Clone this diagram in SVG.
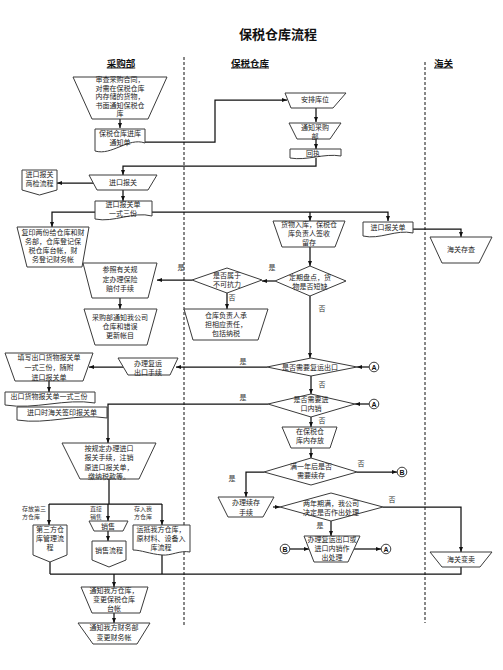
<svg xmlns="http://www.w3.org/2000/svg" width="503" height="670" viewBox="0 0 503 670">
<style>
.s{fill:#fff;stroke:#3a3a3a;stroke-width:1}
.t{font-family:"Noto Sans CJK SC","Liberation Sans",sans-serif;font-size:7px;fill:#222;text-anchor:middle}
.c{fill:none;stroke:#111;stroke-width:1.25}
.a{marker-end:url(#ah)}
.lb{font-family:"Noto Sans CJK SC","Liberation Sans",sans-serif;font-size:7px;fill:#333;text-anchor:middle}
.sm{font-family:"Noto Sans CJK SC","Liberation Sans",sans-serif;font-size:6px;fill:#333;text-anchor:start}
.h{font-family:"Noto Sans CJK SC","Liberation Sans",sans-serif;font-weight:bold;font-size:9.5px;text-decoration:underline;text-anchor:middle;fill:#111}
.dash{stroke:#111;stroke-width:1;stroke-dasharray:3 2;fill:none}
.ct{font-family:"Liberation Sans",sans-serif;font-weight:bold;font-size:7px;fill:#111;text-anchor:middle}
</style>
<defs>
<marker id="ah" viewBox="0 0 10 10" refX="10" refY="5" markerWidth="5" markerHeight="5" markerUnits="userSpaceOnUse" orient="auto">
<path d="M0,1 L10,5 L0,9 Z" fill="#111"/>
</marker>
</defs>
<rect width="503" height="670" fill="#fff"/>

<g id="title">
<text x="278" y="38.5" font-family="'Noto Sans CJK SC',sans-serif" font-weight="bold" font-size="13" text-anchor="middle" fill="#111">保税仓库流程</text>
<text class="h" x="121" y="66.5">采购部</text>
<text class="h" x="250" y="66.5">保税仓库</text>
<text class="h" x="443.5" y="66.5">海关</text>
</g>

<g id="lanes">
<line class="dash" x1="184" y1="57" x2="184" y2="627"/>
<line class="dash" x1="425" y1="62" x2="425" y2="623"/>
</g>

<g id="connectors">
<path class="c a" d="M120,119 V128"/>
<path class="c a" d="M145,142 H215 V100 H287"/>
<path class="c a" d="M316,108 V122"/>
<path class="c a" d="M316,139 V149"/>
<path class="c a" d="M316,158 V166 H123 V175"/>
<path class="c a" d="M93,183 H57"/>
<path class="c a" d="M123,190 V201"/>
<path class="c a" d="M95,212 H52 V227"/>
<path class="c a" d="M152,212 H388 V221"/>
<path class="c a" d="M310,212 V221"/>
<path class="c a" d="M413,229 H461 V237"/>
<path class="c a" d="M310,247 V266"/>
<path class="c a" d="M275,281 H262"/>
<path class="c a" d="M192,280 H157"/>
<path class="c a" d="M120,298 V309"/>
<path class="c a" d="M227,293 V309"/>
<path class="c a" d="M310,296 V358"/>
<path class="c a" d="M267,367 H176"/>
<path class="c a" d="M123,367 H89"/>
<path class="c a" d="M49,381 V392"/>
<path class="c a" d="M311,376 V394"/>
<path class="c a" d="M268,404 H108 V443"/>
<path class="c a" d="M311,417 V427"/>
<path class="c a" d="M311,448 V458"/>
<path class="c a" d="M264,472 H246 V497"/>
<path class="c a" d="M357,472 H397"/>
<path class="c a" d="M369,367 H357"/>
<path class="c a" d="M369,404 H355"/>
<path class="c" d="M109,479 V504 M49,504 H162"/>
<path class="c a" d="M49,504 V525"/>
<path class="c a" d="M108,504 V521"/>
<path class="c a" d="M162,504 V525"/>
<path class="c a" d="M108,531 V541"/>
<path class="c" d="M50,562 V574 M162,555 V574 M50,574 H461 V567"/>
<path class="c a" d="M114,574 V587"/>
<path class="c a" d="M114,613 V623"/>
<path class="c a" d="M273,507 H280"/>
<path class="c a" d="M383,507 H461 V552"/>
<path class="c a" d="M331,521 V536"/>
<path class="c a" d="M290,549 H309"/>
<path class="c a" d="M354,549 H381"/>
<text class="lb" x="181" y="270">是</text>
<text class="lb" x="272" y="270">是</text>
<text class="lb" x="232" y="300">否</text>
<text class="lb" x="322" y="311">否</text>
<text class="lb" x="243" y="364">是</text>
<text class="lb" x="322" y="387">否</text>
<text class="lb" x="243" y="400">是</text>
<text class="lb" x="322" y="423">否</text>
<text class="lb" x="361" y="466">否</text>
<text class="lb" x="232" y="481">是</text>
<text class="lb" x="392" y="502">否</text>
<text class="lb" x="320" y="528">是</text>
<text class="sm" x="22" y="510.5">存放第三</text>
<text class="sm" x="22" y="518.5">方仓库</text>
<text class="sm" x="90" y="510.5">直接</text>
<text class="sm" x="90" y="518.5">销售</text>
<text class="sm" x="134" y="510.5">存入我</text>
<text class="sm" x="134" y="518.5">方仓库</text>
</g>

<g id="n-review">
<polygon class="s" points="73,77 167,77 148,119 92,119"/>
<text class="t"><tspan x="120" y="82">审查采购合同，</tspan><tspan x="120" y="90.6">对需在保税仓库</tspan><tspan x="120" y="99.2">内存储的货物，</tspan><tspan x="120" y="107.8">书面通知保税仓</tspan><tspan x="120" y="116.4">库</tspan></text>
</g>
<g id="n-notice">
<path class="s" d="M95,129 H145 V143 C128,137 112,156 95,151 Z"/>
<text class="t"><tspan x="120" y="135.5">保税仓库进库</tspan><tspan x="120" y="144.5">通知单</tspan></text>
</g>
<g id="n-arrange">
<polygon class="s" points="285,93 346,93 333,108 291,108"/>
<text class="t" x="315" y="102">安排库位</text>
</g>
<g id="n-notify-purchase">
<polygon class="s" points="289,123 341,123 330,139 297,139"/>
<text class="t"><tspan x="315" y="129.5">通知采购</tspan><tspan x="315" y="138.5">部</tspan></text>
</g>
<g id="n-receipt">
<path class="s" d="M290,149 H341 V156 C324,153 307,161 290,158 Z"/>
<text class="t" x="313" y="156">回执</text>
</g>
<g id="n-import-declare">
<polygon class="s" points="89,175 157,175 148,190 97,190"/>
<text class="t" x="123" y="185">进口报关</text>
</g>
<g id="n-inspection">
<polygon class="s" points="22,170 57,170 57,190 39.5,195 22,190"/>
<text class="t"><tspan x="39.5" y="177">进口报关</tspan><tspan x="39.5" y="186">商检流程</tspan></text>
</g>
<g id="n-import-form">
<path class="s" d="M95,201 H152 V216 C133,211 114,223 95,219 Z"/>
<text class="t"><tspan x="123" y="206.5">进口报关单</tspan><tspan x="123" y="215.5">一式三份</tspan></text>
</g>
<g id="n-copy">
<polygon class="s" points="17,227 89,227 82,267 27,267"/>
<text class="t"><tspan x="53" y="235">复印两份给仓库和财</tspan><tspan x="53" y="244">务部，仓库登记保</tspan><tspan x="53" y="253">税仓库台帐，财</tspan><tspan x="53" y="262">务登记财务帐</tspan></text>
</g>
<g id="n-insurance">
<polygon class="s" points="83,263 157,263 148,298 92,298"/>
<text class="t"><tspan x="120" y="272">参照有关规</tspan><tspan x="120" y="282">定办理保险</tspan><tspan x="120" y="291">赔付手续</tspan></text>
</g>
<g id="n-update">
<polygon class="s" points="84,309 157,309 147,345 95,345"/>
<text class="t"><tspan x="120" y="320">采购部通知我公司</tspan><tspan x="120" y="329">仓库和错误</tspan><tspan x="120" y="338">更新帐目</tspan></text>
</g>
<g id="n-storage-in">
<polygon class="s" points="273,221 345,221 335,247 282,247"/>
<text class="t"><tspan x="309" y="227">货物入库，保税仓</tspan><tspan x="309" y="236">库负责人签收</tspan><tspan x="309" y="245">留存</tspan></text>
</g>
<g id="n-shortage">
<polygon class="s" points="310,266 346,281 310,296 275,281"/>
<text class="t"><tspan x="310" y="279.5">定期盘点，货</tspan><tspan x="310" y="288.5">物是否短缺</tspan></text>
</g>
<g id="n-force">
<polygon class="s" points="227,268 262,280 227,293 192,280"/>
<text class="t"><tspan x="227" y="277.5">是否属于</tspan><tspan x="227" y="286.5">不可抗力</tspan></text>
</g>
<g id="n-liable">
<polygon class="s" points="184,309 268,309 258,340 193,340"/>
<text class="t"><tspan x="226" y="318">仓库负责人承</tspan><tspan x="226" y="327">担相应责任，</tspan><tspan x="226" y="336">包括纳税</tspan></text>
</g>
<g id="n-reexport">
<polygon class="s" points="311,358 357,367 311,376 267,367"/>
<text class="t" x="310" y="370">是否需要复运出口</text>
</g>
<g id="n-reexport-proc">
<polygon class="s" points="118,358 178,358 170,375 128,375"/>
<text class="t"><tspan x="148" y="365.5">办理复运</tspan><tspan x="148" y="374.5">出口手续</tspan></text>
</g>
<g id="n-export-form">
<polygon class="s" points="5,353 93,353 83,381 15,381"/>
<text class="t"><tspan x="49" y="360">填写出口货物报关单</tspan><tspan x="49" y="370">一式三份，随附</tspan><tspan x="49" y="379.5">进口报关单</tspan></text>
</g>
<g id="n-export-doc">
<path class="s" d="M5,392 H95 V403 C65,398 35,410 5,405 Z"/>
<text class="t" x="49" y="398.5">出口货物报关单一式三份</text>
</g>
<g id="n-stamped-doc">
<path class="s" d="M17,407 H107 V418 C77,413 47,425 17,420 Z"/>
<text class="t" x="62" y="415">进口时海关签印报关单</text>
</g>
<g id="n-domestic">
<polygon class="s" points="311,394 355,404 311,417 268,404"/>
<text class="t"><tspan x="311" y="402">是否需要进</tspan><tspan x="311" y="411">口内销</tspan></text>
</g>
<g id="n-import-proc">
<polygon class="s" points="62,443 156,443 139,479 80,479"/>
<text class="t"><tspan x="109" y="451">按规定办理进口</tspan><tspan x="109" y="460">报关手续，注销</tspan><tspan x="109" y="469.5">原进口报关单，</tspan><tspan x="109" y="478.5">缴纳税款等。</tspan></text>
</g>
<g id="n-keep">
<polygon class="s" points="282,427 337,427 330,448 291,448"/>
<text class="t"><tspan x="310" y="434">在保税仓</tspan><tspan x="310" y="443">库内存放</tspan></text>
</g>
<g id="n-one-year">
<polygon class="s" points="311,458 357,472 311,485 264,472"/>
<text class="t"><tspan x="311" y="468.5">满一年后是否</tspan><tspan x="311" y="477.5">需要续存</tspan></text>
</g>
<g id="n-renew">
<polygon class="s" points="218,497 274,497 263,517 228,517"/>
<text class="t"><tspan x="246" y="505">办理续存</tspan><tspan x="246" y="514.5">手续</tspan></text>
</g>
<g id="n-two-years">
<polygon class="s" points="331,493 383,507 331,521 280,507"/>
<text class="t"><tspan x="331" y="505.5">两年期满，我公司</tspan><tspan x="331" y="514.5">决定是否作出处理</tspan></text>
</g>
<g id="n-handle">
<polygon class="s" points="304,536 360,536 348,562 314,562"/>
<text class="t"><tspan x="332" y="542">办理复运出口或</tspan><tspan x="332" y="551">进口内销作</tspan><tspan x="332" y="560">出处理</tspan></text>
</g>
<g id="n-auction">
<polygon class="s" points="430,552 492,552 480,567 442,567"/>
<text class="t" x="461" y="562">海关变卖</text>
</g>
<g id="n-import-form2">
<path class="s" d="M363,222 H413 V233 C396,229 380,240 363,236 Z"/>
<text class="t" x="388" y="230">进口报关单</text>
</g>
<g id="n-customs-file">
<polygon class="s" points="430,237 492,237 479,263 442,263"/>
<text class="t" x="461" y="252">海关存查</text>
</g>
<g id="n-third-party">
<polygon class="s" points="33,525 67,525 67,555 50,562 33,555"/>
<text class="t"><tspan x="50" y="531.5">第三方仓</tspan><tspan x="50" y="540.5">库管理流</tspan><tspan x="50" y="549.5">程</tspan></text>
</g>
<g id="n-sale">
<polygon class="s" points="89,521 128,521 123,531 94,531"/>
<text class="t" x="108" y="529">销售</text>
</g>
<g id="n-sale-flow">
<polygon class="s" points="92,541 126,541 126,560 109,567 92,560"/>
<text class="t" x="109" y="553">销售流程</text>
</g>
<g id="n-own-warehouse">
<path class="s" d="M133,525 H190 V552 C180,550 171,556 162,555 C150,554 141,550 133,550 Z"/>
<text class="t"><tspan x="161" y="532">运抵我方仓库，</tspan><tspan x="161" y="541">原材料、设备入</tspan><tspan x="161" y="550">库流程</tspan></text>
</g>
<g id="n-notify-warehouse">
<polygon class="s" points="81,587 148,587 140,613 92,613"/>
<text class="t"><tspan x="114" y="593">通知我方仓库，</tspan><tspan x="114" y="602">变更保税仓库</tspan><tspan x="114" y="611">台帐</tspan></text>
</g>
<g id="n-notify-finance">
<polygon class="s" points="78,623 150,623 137,644 93,644"/>
<text class="t"><tspan x="114" y="630">通知我方财务部</tspan><tspan x="114" y="640">变更财务帐</tspan></text>
</g>

<g id="n-conn-a1"><circle class="s" cx="374" cy="367" r="4.8"/><text class="ct" x="374" y="369.5">A</text></g>
<g id="n-conn-a2"><circle class="s" cx="374" cy="404" r="4.8"/><text class="ct" x="374" y="406.5">A</text></g>
<g id="n-conn-b1"><circle class="s" cx="402" cy="472" r="4.8"/><text class="ct" x="402" y="474.5">B</text></g>
<g id="n-conn-b2"><circle class="s" cx="285" cy="549" r="4.8"/><text class="ct" x="285" y="551.5">B</text></g>
<g id="n-conn-a3"><circle class="s" cx="386" cy="549" r="4.8"/><text class="ct" x="386" y="551.5">A</text></g>
</svg>
